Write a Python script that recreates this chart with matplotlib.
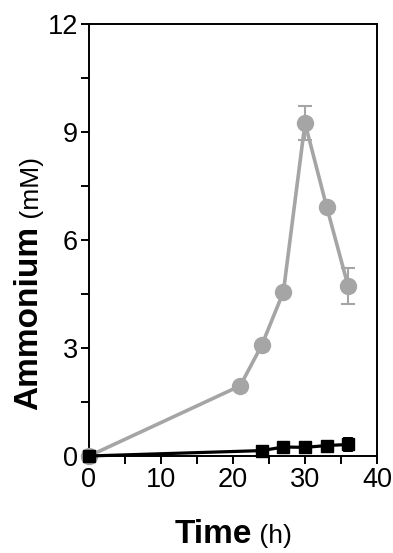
import matplotlib
matplotlib.use("Agg")
import matplotlib.pyplot as plt
from matplotlib.ticker import MultipleLocator

plt.rcParams['font.family'] = ['Liberation Sans', 'DejaVu Sans']

# gray circles
time_a = [0, 21, 24, 27, 30, 33, 36]
nh4_a = [0, 1.95, 3.08, 4.56, 9.25, 6.93, 4.71]
err_a = [0, 0, 0, 0, 0.46, 0, 0.5]

# black squares
time_b = [0, 24, 27, 30, 33, 36]
nh4_b = [0, 0.15, 0.25, 0.24, 0.29, 0.32]
err_b = [0, 0, 0, 0, 0, 0.2]

x_ticks = [0, 10, 20, 30, 40]
y_ticks = [0, 3, 6, 9, 12]

gray = '#a5a5a5'

fig = plt.figure(figsize=(3.93, 5.53), dpi=100)
ax = fig.add_axes([89/393, 1-456/553, (377-89)/393, (456-24)/553])

ax.errorbar(time_a, nh4_a, yerr=err_a, color=gray, lw=2.6, marker='o', ms=11.5,
            capsize=5, elinewidth=1.5, capthick=1.5, zorder=3, clip_on=False)
ax.errorbar(time_b, nh4_b, yerr=err_b, color='black', lw=2.3, marker='s', ms=8.5,
            capsize=0, elinewidth=7, zorder=4, clip_on=False)

ax.set_xlim(0, 40)
ax.set_ylim(0, 12)
ax.set_xticks(x_ticks)
ax.set_yticks(y_ticks)
ax.xaxis.set_minor_locator(MultipleLocator(5))
ax.yaxis.set_minor_locator(MultipleLocator(1.5))
for s in ax.spines.values():
    s.set_linewidth(1.4)
ax.tick_params(which='major', direction='out', length=6, width=1.4, labelsize=19.5, pad=2)
ax.tick_params(which='minor', direction='out', length=6, width=1.4)

# axis labels: bold word + regular unit
fig.canvas.draw()
r = fig.canvas.get_renderer()

t1 = fig.text(0, 0, 'Time', fontsize=24, fontweight='bold', ha='left', va='baseline')
t2 = fig.text(0, 0, ' (h)', fontsize=19, ha='left', va='baseline')
w1 = t1.get_window_extent(r).width
w2 = t2.get_window_extent(r).width
x0 = 233 - (w1 + w2) / 2
yb = 1 - 543/553
t1.set_position((x0/393, yb))
t2.set_position(((x0 + w1)/393, yb))

u1 = fig.text(0, 0, 'Ammonium', fontsize=24, fontweight='bold', rotation=90,
              ha='left', va='bottom', rotation_mode='anchor')
u2 = fig.text(0, 0, ' (mM)', fontsize=19, rotation=90,
              ha='left', va='bottom', rotation_mode='anchor')
h1 = u1.get_window_extent(r).height
xb = 44/393
yb0 = 553 - 410
u1.set_position((xb, yb0/553))
u2.set_position((xb, (yb0 + h1)/553))

fig.savefig('out.png', dpi=100)
